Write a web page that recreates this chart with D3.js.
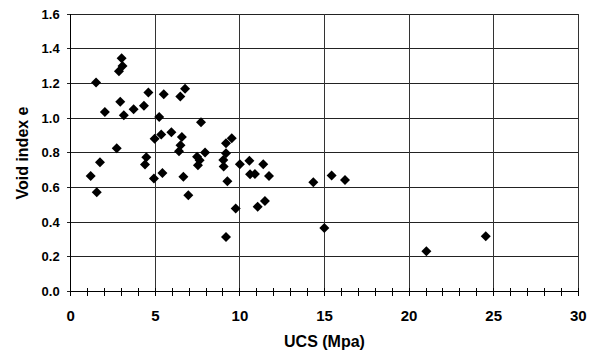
<!DOCTYPE html>
<html lang="en">
<head>
  <meta charset="UTF-8">
  <title>Void index vs UCS</title>
  <script src="https://d3js.org/d3.v7.min.js"></script>
  <style>
    body { margin: 0; background: #fff; }
    text { font-family: "Liberation Sans", Arial, sans-serif; font-weight: bold; fill: #000; }
  </style>
</head>
<body>
  <svg width="594" height="352"></svg>
  <script>
    // UCS (Mpa) readings
    const ucs = [1.18, 1.50, 1.54, 1.73, 2.02, 2.72, 2.85, 2.93, 3.01, 3.06,
                 3.14, 3.72, 4.33, 4.39, 4.47, 4.59, 4.92, 4.96, 5.23, 5.35,
                 5.42, 5.50, 5.95, 6.40, 6.48, 6.49, 6.57, 6.66, 6.76, 6.95,
                 7.47, 7.52, 7.62, 7.70, 7.94, 9.02, 9.04, 9.18, 9.18, 9.18,
                 9.26, 9.52, 9.75, 10.0, 10.56, 10.6, 10.89, 11.05, 11.38, 11.48,
                 11.72, 14.34, 14.99, 15.42, 16.21, 21.02, 24.53];
    // void index e for each reading
    const voidIndex = [0.667, 1.205, 0.573, 0.746, 1.036, 0.826, 1.27, 1.095, 1.345, 1.30,
                       1.017, 1.051, 1.072, 0.733, 0.775, 1.148, 0.652, 0.881, 1.007, 0.906,
                       0.684, 1.138, 0.919, 0.809, 1.124, 0.844, 0.891, 0.663, 1.17, 0.556,
                       0.778, 0.728, 0.757, 0.977, 0.802, 0.759, 0.722, 0.798, 0.855, 0.315,
                       0.636, 0.884, 0.48, 0.734, 0.755, 0.677, 0.678, 0.49, 0.734, 0.523,
                       0.667, 0.630, 0.367, 0.669, 0.644, 0.233, 0.319];
    const xTicks = [0, 5, 10, 15, 20, 25, 30];
    const yTicks = [0, 0.2, 0.4, 0.6, 0.8, 1.0, 1.2, 1.4, 1.6];

    const data = ucs.map((u, i) => ({ u: u, e: voidIndex[i] }));

    const svg = d3.select("svg");
    const plotL = 70.7, plotR = 578.3, plotT = 14, plotB = 291.7;

    const x = d3.scaleLinear().domain([0, 30]).range([plotL, plotR]);
    const y = d3.scaleLinear().domain([0, 1.6]).range([plotB, plotT]);

    // horizontal grid (extends a little left of the axis as tick marks)
    svg.append("g")
      .selectAll("line")
      .data(yTicks)
      .join("line")
      .attr("x1", plotL - 4).attr("x2", plotR)
      .attr("y1", d => y(d)).attr("y2", d => y(d))
      .attr("stroke", "#222").attr("stroke-width", 1)
      .attr("shape-rendering", "crispEdges");

    // vertical grid
    svg.append("g")
      .selectAll("line")
      .data(xTicks.slice(1))
      .join("line")
      .attr("x1", d => x(d)).attr("x2", d => x(d))
      .attr("y1", plotT).attr("y2", plotB)
      .attr("stroke", "#333").attr("stroke-width", 1)
      .attr("shape-rendering", "crispEdges");

    // axes lines
    svg.append("line")
      .attr("x1", plotL).attr("x2", plotL).attr("y1", plotT).attr("y2", plotB)
      .attr("stroke", "#000").attr("shape-rendering", "crispEdges");
    svg.append("line")
      .attr("x1", plotL).attr("x2", plotR).attr("y1", plotB).attr("y2", plotB)
      .attr("stroke", "#000").attr("shape-rendering", "crispEdges");

    // x ticks crossing the axis, every 1 unit
    svg.append("g")
      .selectAll("line")
      .data(d3.range(0, 31))
      .join("line")
      .attr("x1", d => x(d)).attr("x2", d => x(d))
      .attr("y1", plotB - 4).attr("y2", plotB + 4)
      .attr("stroke", "#000").attr("stroke-width", 1)
      .attr("shape-rendering", "crispEdges");

    // tick labels
    svg.append("g")
      .selectAll("text")
      .data(yTicks)
      .join("text")
      .attr("x", plotL - 11)
      .attr("y", d => y(d) + 4.5)
      .attr("text-anchor", "end")
      .attr("font-size", 13)
      .text(d => d3.format(".1f")(d));

    svg.append("g")
      .selectAll("text")
      .data(xTicks)
      .join("text")
      .attr("x", d => x(d))
      .attr("y", 320.5)
      .attr("text-anchor", "middle")
      .attr("font-size", 15)
      .text(d => d);

    // axis titles
    svg.append("text")
      .attr("x", (plotL + plotR) / 2)
      .attr("y", 347)
      .attr("text-anchor", "middle")
      .attr("font-size", 16)
      .text("UCS (Mpa)");

    svg.append("text")
      .attr("transform", "translate(28,153) rotate(-90)")
      .attr("text-anchor", "middle")
      .attr("font-size", 16)
      .text("Void index e");

    // diamond markers
    svg.append("g")
      .selectAll("path")
      .data(data)
      .join("path")
      .attr("transform", d => `translate(${x(d.u)},${y(d.e)})`)
      .attr("d", "M0,-5L5,0L0,5L-5,0Z")
      .attr("fill", "#000");
  </script>
</body>
</html>
